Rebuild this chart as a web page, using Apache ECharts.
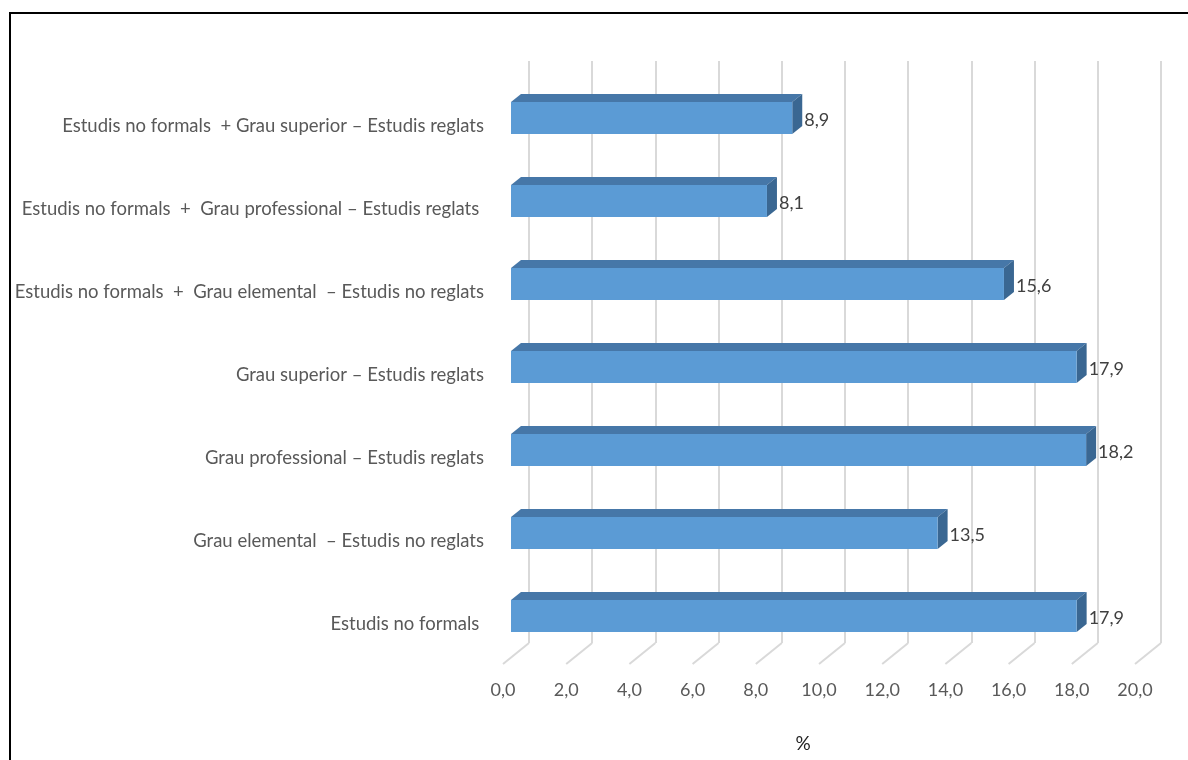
<!DOCTYPE html>
<html>
<head>
<meta charset="utf-8">
<script src="https://cdn.jsdelivr.net/npm/echarts@6/dist/echarts.min.js"></script>
<style>
  html, body { margin: 0; padding: 0; background: #fff; }
  #chart { width: 1188px; height: 760px; }
</style>
</head>
<body>
<div id="chart"></div>
<script>
// Categories listed bottom to top (category axis runs upward)
const categories = [
  'Estudis no formals ',
  'Grau elemental  – Estudis no reglats',
  'Grau professional – Estudis reglats',
  'Grau superior – Estudis reglats',
  'Estudis no formals  +  Grau elemental  – Estudis no reglats',
  'Estudis no formals  +  Grau professional – Estudis reglats ',
  'Estudis no formals  + Grau superior – Estudis reglats'
];
const values = [17.9, 13.5, 18.2, 17.9, 15.6, 8.1, 8.9];
const ticks = [0, 2, 4, 6, 8, 10, 12, 14, 16, 18, 20];
const axisName = '%';

const FONT = 'Lato, "Open Sans", sans-serif';
const fmt = v => v.toFixed(1).replace('.', ',');

// depth of the 3D bars and of the floor
const DEPTH_X = 10, DEPTH_Y = -8;
const FLOOR_DX = -26, FLOOR_DY = 21;

const chart = echarts.init(document.getElementById('chart'), null, { renderer: 'canvas' });

function renderBar(params, api) {
  const v = api.value(0);
  const c = api.value(1);
  const p0 = api.coord([0, c]);
  const p1 = api.coord([v, c]);
  const h = 32;
  const x0 = p0[0], x1 = p1[0];
  const yT = p0[1] - h / 2, yB = p0[1] + h / 2;
  return {
    type: 'group',
    children: [
      { type: 'polygon', shape: { points: [[x0, yT], [x0 + DEPTH_X, yT + DEPTH_Y], [x1 + DEPTH_X, yT + DEPTH_Y], [x1, yT]] },
        style: { fill: '#4677a8' } },
      { type: 'polygon', shape: { points: [[x1, yT], [x1 + DEPTH_X, yT + DEPTH_Y], [x1 + DEPTH_X, yB + DEPTH_Y], [x1, yB]] },
        style: { fill: '#3a6792' } },
      { type: 'rect', shape: { x: x0, y: yT, width: x1 - x0, height: h },
        style: { fill: '#5b9bd5' } },
      { type: 'text', x: x1 + DEPTH_X + 2, y: p0[1] + 2,
        style: { text: fmt(v), fill: '#404040', font: '18px ' + FONT, verticalAlign: 'middle', align: 'left' } }
    ]
  };
}

function renderFloor(params, api) {
  const t = api.value(0);
  const p = api.coord([t, 0]);
  return {
    type: 'line',
    shape: { x1: p[0], y1: p[1], x2: p[0] + FLOOR_DX, y2: p[1] + FLOOR_DY },
    style: { stroke: '#d9d9d9', lineWidth: 2 }
  };
}

const option = {
  backgroundColor: '#fff',
  animation: false,
  graphic: [{
    type: 'rect', z: 100,
    shape: { x: 10, y: 13, width: 1200, height: 800 },
    style: { fill: 'none', stroke: '#000', lineWidth: 2 }
  }],
  grid: [
    // bars (front plane)
    { left: 511, width: 632, top: 76.5, height: 581 },
    // back wall with gridlines
    { left: 529, width: 632, top: 61, bottom: 117 },
    // floor front edge carrying the tick labels
    { left: 503, width: 632, top: 664, height: 0.01 },
    // category labels, set slightly lower than the bar faces
    { left: 511, width: 632, top: 84.5, height: 581 }
  ],
  xAxis: [
    { gridIndex: 0, type: 'value', min: 0, max: 20, interval: 2, show: false },
    { gridIndex: 1, type: 'value', min: 0, max: 20, interval: 2,
      axisLine: { show: false }, axisTick: { show: false }, axisLabel: { show: false },
      splitLine: { show: true, lineStyle: { color: '#d9d9d9', width: 2 } } },
    { gridIndex: 2, type: 'value', min: 0, max: 20, interval: 2,
      axisLine: { show: false }, axisTick: { show: false }, splitLine: { show: false },
      axisLabel: { formatter: v => fmt(v), color: '#595959', fontSize: 18, fontFamily: FONT, margin: 17 },
      name: axisName, nameLocation: 'middle', nameGap: 70,
      nameTextStyle: { color: '#222', fontSize: 19, fontFamily: FONT, padding: [0, 32, 0, 0] } },
    { gridIndex: 3, type: 'value', min: 0, max: 20, show: false }
  ],
  yAxis: [
    { gridIndex: 0, type: 'category', data: categories, show: false },
    { gridIndex: 1, type: 'value', min: 0, max: 1, show: false },
    { gridIndex: 2, type: 'value', min: 0, max: 1, show: false },
    { gridIndex: 3, type: 'category', data: categories,
      axisLine: { show: false }, axisTick: { show: false }, splitLine: { show: false },
      axisLabel: { color: '#595959', fontSize: 18.5, fontFamily: FONT, margin: 27 } }
  ],
  series: [
    { type: 'custom', xAxisIndex: 1, yAxisIndex: 1, data: ticks.map(t => [t]), renderItem: renderFloor, silent: true },
    { type: 'custom', xAxisIndex: 0, yAxisIndex: 0, data: values.map((v, i) => [v, i]), renderItem: renderBar,
      encode: { x: 0, y: 1 }, z: 5 }
  ]
};

chart.setOption(option);
</script>
</body>
</html>
